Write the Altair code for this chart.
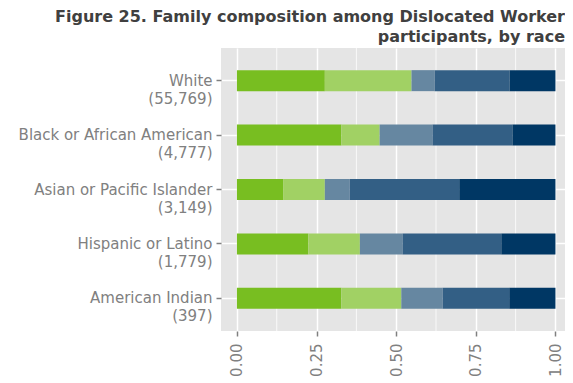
import altair as alt
import pandas as pd

races = ["White", "Black or African American", "Asian or Pacific Islander",
         "Hispanic or Latino", "American Indian"]
counts = ["55,769", "4,777", "3,149", "1,779", "397"]

groups = ["Group 1", "Group 2", "Group 3", "Group 4", "Group 5"]
shares = [
    [0.276, 0.328, 0.145, 0.224, 0.328],
    [0.272, 0.120, 0.131, 0.162, 0.188],
    [0.073, 0.166, 0.078, 0.134, 0.130],
    [0.235, 0.251, 0.344, 0.310, 0.209],
    [0.144, 0.135, 0.302, 0.170, 0.145],
]
colors = ["#78BE21", "#A1D164", "#6687A1", "#335F85", "#003764"]

major_ticks = [0.0, 0.25, 0.5, 0.75, 1.0]
minor_ticks = [0.125, 0.375, 0.625, 0.875]

labels = [f"{r}\n({c})" for r, c in zip(races, counts)]

rows = []
for gi, g in enumerate(groups):
    for ri, lab in enumerate(labels):
        rows.append({"race": lab, "group": g, "order": gi, "share": shares[gi][ri]})
df = pd.DataFrame(rows)
minor_df = pd.DataFrame({"v": minor_ticks})

FONT = "DejaVu Sans"
x_scale = alt.Scale(domain=[-0.05, 1.03], nice=False, zero=False)
x_axis = alt.Axis(values=major_ticks, format=".2f", labelAngle=270,
                  labelFont=FONT, labelFontSize=15, labelColor="#808080",
                  labelPadding=7, tickSize=5, tickColor="#808080", tickWidth=1.5,
                  domain=False, grid=True, gridColor="white", gridWidth=1.5)

minor = alt.Chart(minor_df).mark_rule(color="white", strokeWidth=0.8).encode(
    x=alt.X("v:Q", scale=x_scale, axis=x_axis, title=None)
)

bars = alt.Chart(df).mark_bar().encode(
    y=alt.Y("race:N", sort=labels, title=None,
            scale=alt.Scale(paddingInner=0.614, paddingOuter=0.407),
            axis=alt.Axis(labelExpr="split(datum.label, '\\n')", labelLineHeight=18,
                          labelFont=FONT, labelFontSize=15, labelColor="#808080",
                          labelLimit=0,
                          labelPadding=4, tickSize=5, tickColor="#808080", tickWidth=1.5,
                          domain=False, grid=True, gridColor="white", gridWidth=1.5,
                          bandPosition=0.5, minExtent=213)),
    x=alt.X("share:Q", stack="zero", scale=x_scale, title=None, axis=x_axis),
    color=alt.Color("group:N", scale=alt.Scale(domain=groups, range=colors), legend=None),
    order=alt.Order("order:Q"),
)

chart = alt.layer(minor, bars).properties(
    width=344, height=283,
    padding={"left": 0, "top": 0, "right": 0, "bottom": 0},
    title=alt.TitleParams(
        text=["Figure 25. Family composition among Dislocated Worker",
              "participants, by race"],
        anchor="end", font=FONT, fontSize=16, fontWeight="bold",
        color="#404040", lineHeight=20, offset=3),
).configure_view(fill="#E5E5E5", stroke=None)

chart.save("out.html", embed_options={"renderer": "svg", "actions": False})
